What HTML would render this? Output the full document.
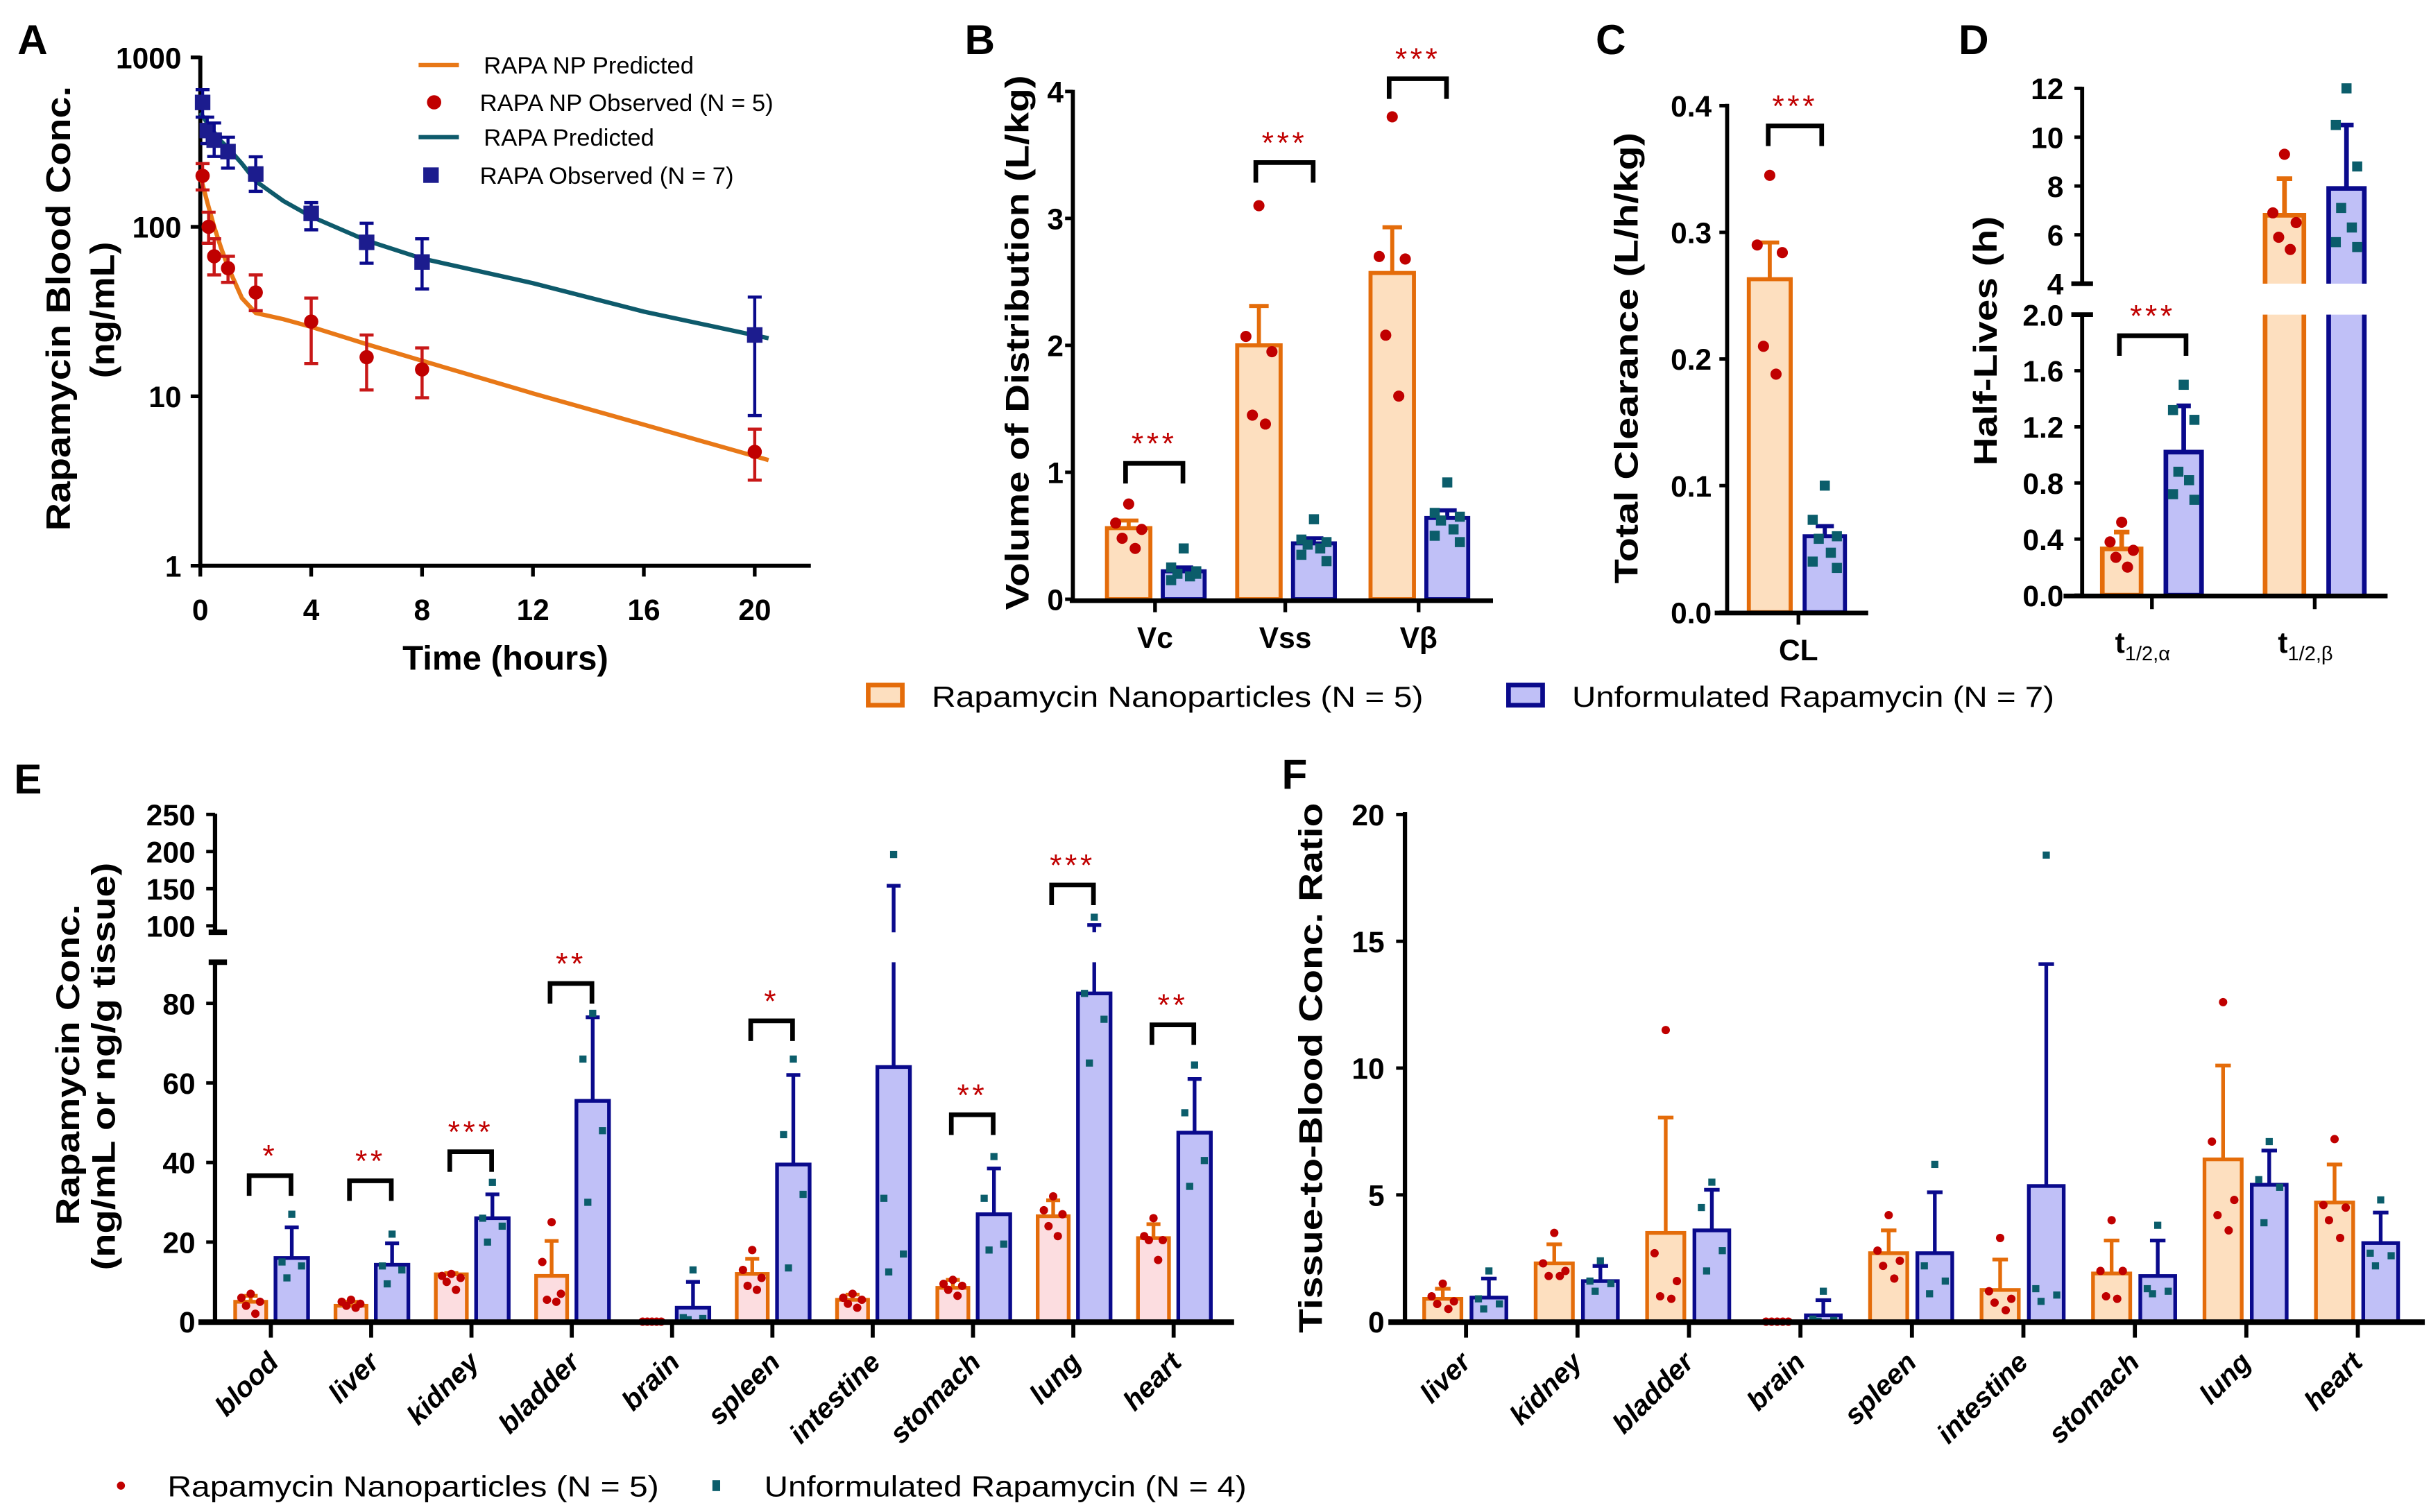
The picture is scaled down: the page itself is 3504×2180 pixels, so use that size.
<!DOCTYPE html>
<html><head><meta charset="utf-8">
<style>
html,body{margin:0;padding:0;background:#fff;}
svg{display:block;}
text{font-family:"Liberation Sans",sans-serif;}
</style></head>
<body>
<svg id="fig" xmlns="http://www.w3.org/2000/svg" width="3504" height="2180" viewBox="0 0 1568 975.5" preserveAspectRatio="none">
<rect x="0" y="0" width="1568" height="975.5" fill="#fff"/>
</svg>
<script>
// ===== Panel A data =====
const aNpTimes=[0.083,0.3,0.5,1,2,4,6,8,20];
const aNpMean=[200,100,67,57,41,27.6,17,14.4,4.7];
const aNpHi=[236,122,85,67,52,38,23,19.3,6.4];
const aNpLo=[165,80,52,47,32,15.6,10.9,9.8,3.2];
const aRapTimes=[0.083,0.25,0.5,1,2,4,6,8,20];
const aRapMean=[542,370,325,278,205,120,81,62,23];
const aRapHi=[645,444,410,338,259,139,105,85,38.5];
const aRapLo=[444,310,260,222,162,96,61,43,7.7];
const aPredTimes=[0,0.25,0.5,0.75,1,1.5,2,3,4,6,8,12,16,20.5];
const aNpPred=[200,140,100,75,58,38,31,28.5,25.7,20.3,16.2,10.4,6.8,4.2];
const aRapPred=[472,410,360,320,292,236,186,142,115,83,65,46.5,31.6,22];
const aYTicks=[1,10,100,1000];
const aXTicks=[0,4,8,12,16,20];
// ===== Panel B data =====
const bCats=['Vc','Vss','Vβ'];
const bNpMean=[0.56,2.0,2.57];
const bNpErr=[0.62,2.31,2.93];
const bNpPts=[[0.75,0.6,0.55,0.48,0.4],[3.1,2.07,1.95,1.45,1.38],[3.8,2.7,2.68,2.08,1.6]];
const bUnMean=[0.22,0.44,0.64];
const bUnErr=[0.25,0.48,0.70];
const bUnPts=[[0.4,0.25,0.22,0.2,0.18,0.15,0.2],[0.63,0.47,0.45,0.43,0.4,0.35,0.3],[0.92,0.68,0.65,0.62,0.55,0.5,0.45]];
const bSig=[1.07,3.44,4.1];
const bSigLabel=['***','***','***'];
const bYTicks=[0,1,2,3,4];
// ===== Panel C data =====
const cCats=['CL'];
const cNpMean=[0.263];
const cNpErr=[0.292];
const cNpPts=[[0.345,0.29,0.284,0.21,0.188]];
const cUnMean=[0.06];
const cUnErr=[0.068];
const cUnPts=[[0.1,0.073,0.06,0.058,0.047,0.04,0.035]];
const cSig=[0.384];
const cYTicks=[0,0.1,0.2,0.3,0.4];
// ===== Panel D data =====
const dCats=['α','β'];
const dNpMean=[0.33,6.8];
const dNpErr=[0.45,8.3];
const dNpPts=[[0.52,0.38,0.32,0.27,0.2],[9.3,6.9,6.5,5.9,5.4]];
const dUnMean=[1.02,7.9];
const dUnErr=[1.35,10.5];
const dUnPts=[[1.5,1.32,1.25,0.88,0.82,0.72,0.68],[12,10.5,8.8,7.1,6.3,5.7,5.5]];
const dSig=[1.85];
const dYTicksLow=[0,0.4,0.8,1.2,1.6,2.0];
const dYTicksHigh=[4,6,8,10,12];
// ===== Panel E data =====
const eCats=['blood','liver','kidney','bladder','brain','spleen','intestine','stomach','lung','heart'];
const eNpMean=[5,4,11.9,11.5,0,12,5.5,8.5,26.5,21];
const eNpErr=[6.5,5,12.2,20.3,0,15.8,6.8,10.5,30.5,24.5];
const eNpPts=[[7,6,5,4,2],[5.5,5,4.5,4,3.5],[12,11.5,11,10,8],[25,15,7,5.5,5],[0,0,0,0,0],[18,13,11,9,8],[7,6,5.5,4.5,3.5],[10.5,9.5,9,8,6.5],[31.5,28,27,24,21.5],[26,21.5,20.5,20.5,15.5]];
const eUnMean=[16,14.3,26,55.5,3.5,39.5,64,27,82.5,47.5];
const eUnErr=[23.7,19.7,32,76.5,10,62,154,38.5,101,61];
const eUnPts=[[27,15,14,11],[22,14,13,9.5],[35,26,24,20],[77.5,66,48,30],[13,1,0.8,0.5],[66,47,32,13.5],[196,31,17,12.5],[41.5,31,19.5,18],[111.5,82.5,76,65],[64.5,52.5,40.5,34]];
const eSig=[36.7,35.4,42.7,85,null,75.6,null,52,155,74.6];
const eSigLabel=['*','**','***','**','','*','','**','***','**'];
const eYTicksLow=[0,20,40,60,80];
const eYTicksHigh=[100,150,200,250];
// ===== Panel F data =====
const fCats=['liver','kidney','bladder','brain','spleen','intestine','stomach','lung','heart'];
const fNpMean=[0.9,2.3,3.5,0,2.7,1.25,1.9,6.4,4.7];
const fNpErr=[1.3,3.05,8.05,0,3.6,2.45,3.2,10.1,6.2];
const fNpPts=[[1.5,1.0,0.8,0.7,0.5],[3.5,2.3,2.0,1.8,1.8],[11.5,2.7,1.6,1.0,0.9],[0,0,0,0,0],[4.2,2.8,2.4,2.2,1.7],[3.3,1.2,0.9,0.75,0.45],[4.0,2.0,2.0,1.0,0.9],[12.6,7.1,4.8,4.2,3.6],[7.2,4.6,4.5,4.0,3.3]];
const fUnMean=[0.95,1.6,3.6,0.25,2.7,5.35,1.8,5.4,3.1];
const fUnErr=[1.7,2.2,5.2,0.85,5.1,14.1,3.2,6.75,4.3];
const fUnPts=[[2.0,0.9,0.7,0.5],[2.4,1.6,1.5,1.2],[5.5,4.5,2.8,2.0],[1.2,0.1,0.05,0.02],[6.2,2.2,1.6,1.1],[18.4,1.3,1.05,0.8],[3.8,1.3,1.2,1.1],[7.1,5.6,5.3,3.9],[4.8,2.7,2.6,2.2]];
const fYTicks=[0,5,10,15,20];

// ===== helpers =====
const NS='http://www.w3.org/2000/svg';
const svg=document.getElementById('fig');
const OR='#E46C0A', ORF='#FDDFBF', PINK='#FCDDE0', NV='#0A0A8C', BLF='#C0C0F7', RED='#C00000', TEAL='#0B5D6B', NAVYPT='#1C1C8E';
const NUMF='"Liberation Sans Narrow","Liberation Sans",sans-serif';
function el(parent,tag,attrs,text){const e=document.createElementNS(NS,tag);for(const k in attrs)e.setAttribute(k,attrs[k]);if(text!==undefined)e.textContent=text;parent.appendChild(e);return e;}
function nm(e,n){
  
  
  return e;
}
function grp(name){const g=el(svg,'g',{});nm(g,name);return g;}
function line(g,x1,y1,x2,y2,c,w,name){const e=el(g,'line',{x1,y1,x2,y2,stroke:c,'stroke-width':w});nm(e,name);return e;}
function txt(g,x,y,s,o,name){o=o||{};const e=el(g,'text',{x,y,'font-size':o.fs||18,'font-weight':o.fw||'normal','text-anchor':o.a||'start',fill:o.fill||'#000','font-family':o.ff||'"Liberation Sans",sans-serif'},s);if(o.tl){e.setAttribute('textLength',o.tl);e.setAttribute('lengthAdjust','spacingAndGlyphs');}if(o.ls)e.setAttribute('letter-spacing',o.ls);nm(e,name);return e;}
function rtxt(g,cx,cy,s,fs,len,name){const e=el(g,'text',{x:0,y:0,dy:'0.35em','font-size':fs,'font-weight':'bold','text-anchor':'middle',transform:`translate(${cx},${cy}) rotate(-90)`,textLength:len,lengthAdjust:'spacingAndGlyphs'},s);nm(e,name);return e;}
const JIT=[0,-0.3,0.3,-0.15,0.15,-0.3,0.3];
function pts(g,xc,w,vals,yf,kind,size,name){
  vals.forEach((v,i)=>{
    const x=xc+JIT[i%7]*w, y=yf(v);
    let e;
    if(kind==='dot') e=el(g,'circle',{cx:x,cy:y,r:size,fill:RED});
    else e=el(g,'rect',{x:x-size/2,y:y-size/2,width:size,height:size,fill:TEAL});
    nm(e,name);
  });
}
function bar(g,x0,x1,y0,y1,fill,stroke,sw,name){const e=el(g,'rect',{x:x0,y:Math.min(y0,y1),width:x1-x0,height:Math.abs(y0-y1),fill,stroke,'stroke-width':sw});nm(e,name);return e;}
function err(g,xc,y0,y1,cw,c,sw,name){line(g,xc,y0,xc,y1,c,sw,name);line(g,xc-cw/2,y1,xc+cw/2,y1,c,sw,name+'-cap');}
function sig(g,x0,x1,yTop,label,fs,name){
  const p=el(g,'path',{d:`M${x0},${yTop+13} V${yTop} H${x1} V${yTop+13}`,fill:'none',stroke:'#000','stroke-width':3});
  nm(p,name+'-bracket');
  txt(g,(x0+x1)/2,yTop-6,label,{fs:20,a:'middle',fill:RED,ls:2},name+'-stars');
}

// ===== Panel A =====
(function(){
  const g=grp('panel-a');
  const xA=t=>129.2+t*17.88, yA=v=>365-109.33*Math.log10(v);
  txt(g,21,35,'A',{fs:27,fw:'bold',a:'middle'},'panel-a-label');
  line(g,129.2,36,129.2,366,'#000',2.6,'y-axis');
  line(g,128,365,523,365,'#000',2.6,'x-axis');
  aYTicks.forEach(v=>{line(g,123,yA(v),129.2,yA(v),'#000',2.4,'y-tick');txt(g,117,yA(v)+7,String(v),{fs:19,fw:'bold',a:'end',ff:NUMF},'y-tick-label');});
  aXTicks.forEach(t=>{line(g,xA(t),365,xA(t),372,'#000',2.4,'x-tick');txt(g,xA(t),400,String(t),{fs:19,fw:'bold',a:'middle',ff:NUMF},'x-tick-label');});
  txt(g,326,432,'Time (hours)',{fs:22,fw:'bold',a:'middle'},'x-axis-title');
  rtxt(g,37.5,199,'Rapamycin Blood Conc.',22,287,'y-axis-title-line1');
  rtxt(g,66,200,'(ng/mL)',22,88,'y-axis-title-line2');
  const np=el(g,'polyline',{points:aPredTimes.map((t,i)=>xA(t)+','+yA(aNpPred[i])).join(' '),fill:'none',stroke:'#E87817','stroke-width':2.8});
  nm(np,'rapa-np-predicted-line');
  const rp=el(g,'polyline',{points:aPredTimes.map((t,i)=>xA(t)+','+yA(aRapPred[i])).join(' '),fill:'none',stroke:'#0E5A6B','stroke-width':2.8});
  nm(rp,'rapa-predicted-line');
  aRapTimes.forEach((t,i)=>{const x=xA(t);line(g,x,yA(aRapLo[i]),x,yA(aRapHi[i]),NV,2,'rapa-error-bar');line(g,x-4.5,yA(aRapLo[i]),x+4.5,yA(aRapLo[i]),NV,2,'rapa-error-cap');line(g,x-4.5,yA(aRapHi[i]),x+4.5,yA(aRapHi[i]),NV,2,'rapa-error-cap');const s=el(g,'rect',{x:x-5,y:yA(aRapMean[i])-5,width:10,height:10,fill:NAVYPT});nm(s,'rapa-observed-point');});
  aNpTimes.forEach((t,i)=>{const x=xA(t);line(g,x,yA(aNpLo[i]),x,yA(aNpHi[i]),'#C81818',2,'rapa-np-error-bar');line(g,x-4.5,yA(aNpLo[i]),x+4.5,yA(aNpLo[i]),'#C81818',2,'rapa-np-error-cap');line(g,x-4.5,yA(aNpHi[i]),x+4.5,yA(aNpHi[i]),'#C81818',2,'rapa-np-error-cap');const c=el(g,'circle',{cx:x,cy:yA(aNpMean[i]),r:4.6,fill:RED});nm(c,'rapa-np-observed-point');});
  const lg=el(g,'g',{});nm(lg,'legend-a');
  line(lg,270,42,296,42,'#E87817',2.8,'legend-swatch-np-predicted');
  txt(lg,312,47.5,'RAPA NP Predicted',{fs:15.5},'legend-entry-np-predicted');
  const c=el(lg,'circle',{cx:280,cy:66,r:4.6,fill:RED});nm(c,'legend-swatch-np-observed');
  txt(lg,309.5,71.5,'RAPA NP Observed (N = 5)',{fs:15.5},'legend-entry-np-observed');
  line(lg,270,88.5,296,88.5,'#0E5A6B',2.8,'legend-swatch-rapa-predicted');
  txt(lg,312,94,'RAPA Predicted',{fs:15.5},'legend-entry-rapa-predicted');
  const s=el(lg,'rect',{x:273,y:108,width:10,height:10,fill:NAVYPT});nm(s,'legend-swatch-rapa-observed');
  txt(lg,309.5,118.5,'RAPA Observed (N = 7)',{fs:15.5},'legend-entry-rapa-observed');
})();

// ===== generic grouped pair drawing =====
function drawPairs(g,ticks,yf,L,npFill,npMean,npErr,npPts,unMean,unErr,unPts,ps,prefix){
  ticks.forEach((tx,i)=>{
    const a0=tx+L[0],a1=tx+L[1],b0=tx+L[2],b1=tx+L[3];
    bar(g,a0,a1,yf(0),yf(npMean[i]),npFill,OR,ps.sw,prefix+'-np-bar');
    if(npErr[i]>npMean[i]) err(g,(a0+a1)/2,yf(npMean[i]),yf(npErr[i]),(a1-a0)*0.45,OR,ps.sw,prefix+'-np-error');
    pts(g,(a0+a1)/2,a1-a0,npPts[i],yf,'dot',ps.r,prefix+'-np-point');
    bar(g,b0,b1,yf(0),yf(unMean[i]),BLF,NV,ps.sw,prefix+'-unformulated-bar');
    if(unErr[i]>unMean[i]) err(g,(b0+b1)/2,yf(unMean[i]),yf(unErr[i]),(b1-b0)*0.45,NV,ps.sw,prefix+'-unformulated-error');
    pts(g,(b0+b1)/2,b1-b0,unPts[i],yf,'sq',ps.sq,prefix+'-unformulated-point');
  });
}

// ===== Panel B =====
(function(){
  const g=grp('panel-b');
  const yB=v=>386.6-v*81.9;
  const ticks=[745,829,915];
  txt(g,632,35,'B',{fs:27,fw:'bold',a:'middle'},'panel-b-label');
  rtxt(g,656,221,'Volume of Distribution (L/kg)',21,345,'y-axis-title');
  drawPairs(g,ticks,yB,[-31,-3,5,32],ORF,bNpMean,bNpErr,bNpPts,bUnMean,bUnErr,bUnPts,{sw:2.6,r:3.6,sq:6.5},'b');
  line(g,692,58,692,388,'#000',2.6,'y-axis');
  line(g,690,387.5,963,387.5,'#000',3,'x-axis');
  bYTicks.forEach(v=>{line(g,687,yB(v),692,yB(v),'#000',2.2,'y-tick');txt(g,686,yB(v)+7,String(v),{fs:19,fw:'bold',a:'end',ff:NUMF},'y-tick-label');});
  ticks.forEach((tx,i)=>{line(g,tx,387,tx,395,'#000',2.4,'x-tick');txt(g,tx,418,bCats[i],{fs:19,fw:'bold',a:'middle',ff:NUMF},'x-tick-label');
    sig(g,tx-19,tx+18,yB(bSig[i]),bSigLabel[i],20,'b-significance');});
})();

// ===== Panel C =====
(function(){
  const g=grp('panel-c');
  const yC=v=>395-v*817;
  const ticks=[1160];
  txt(g,1039,35,'C',{fs:27,fw:'bold',a:'middle'},'panel-c-label');
  rtxt(g,1049,231,'Total  Clearance (L/h/kg)',21,291,'y-axis-title');
  drawPairs(g,ticks,yC,[-32,-5,4,30],ORF,cNpMean,cNpErr,cNpPts,cUnMean,cUnErr,cUnPts,{sw:2.6,r:3.6,sq:6.5},'c');
  line(g,1114,67,1114,396,'#000',2.6,'y-axis');
  line(g,1106,395.5,1205,395.5,'#000',3,'x-axis');
  cYTicks.forEach(v=>{line(g,1109,yC(v),1114,yC(v),'#000',2.2,'y-tick');txt(g,1104,yC(v)+7,v.toFixed(1),{fs:19,fw:'bold',a:'end',ff:NUMF},'y-tick-label');});
  ticks.forEach((tx,i)=>{line(g,tx,395,tx,403,'#000',2.4,'x-tick');txt(g,tx,426,cCats[i],{fs:19,fw:'bold',a:'middle'},'x-tick-label');
    sig(g,tx-19.5,tx+15,yC(cSig[i]),'***',20,'c-significance');});
})();

// ===== Panel D =====
(function(){
  const g=grp('panel-d');
  const yL=v=>384-v*90.5, yU=v=>183-(v-4)*15.75;
  const yD=v=>v<=2.05?yL(v):yU(v);
  const ticks=[1388,1493];
  const L=[-32,-7,9,32];
  txt(g,1273,35,'D',{fs:27,fw:'bold',a:'middle'},'panel-d-label');
  rtxt(g,1280.5,220,'Half-Lives (h)',21,161,'y-axis-title');
  ticks.forEach((tx,i)=>{
    const a0=tx+L[0],a1=tx+L[1],b0=tx+L[2],b1=tx+L[3];
    [[a0,a1,dNpMean[i],dNpErr[i],dNpPts[i],ORF,OR,'dot','np'],[b0,b1,dUnMean[i],dUnErr[i],dUnPts[i],BLF,NV,'sq','unformulated']].forEach(s=>{
      const [x0,x1,m,e,p,fill,stroke,kind,nmx]=s;
      if(m<=2){
        bar(g,x0,x1,yL(0),yL(m),fill,stroke,3,'d-'+nmx+'-bar');
      }else{
        const r1=el(g,'rect',{x:x0,y:203,width:x1-x0,height:181,fill});nm(r1,'d-'+nmx+'-bar-lower');
        const p1=el(g,'path',{d:`M${x0},384 V203 M${x1},203 V384`,stroke,'stroke-width':3,fill:'none'});nm(p1,'d-'+nmx+'-bar-lower-edge');
        const r2=el(g,'rect',{x:x0,y:yU(m),width:x1-x0,height:183-yU(m),fill});nm(r2,'d-'+nmx+'-bar-upper');
        const p2=el(g,'path',{d:`M${x0},183 V${yU(m)} H${x1} V183`,stroke,'stroke-width':3,fill:'none'});nm(p2,'d-'+nmx+'-bar-upper-edge');
      }
      err(g,(x0+x1)/2,yD(m),yD(e),(x1-x0)*0.4,stroke,3,'d-'+nmx+'-error');
      pts(g,(x0+x1)/2,x1-x0,p,yD,kind,kind==='dot'?3.6:6.5,'d-'+nmx+'-point');
    });
  });
  line(g,1343,56,1343,183,'#000',2.6,'y-axis-upper');
  line(g,1343,203,1343,385,'#000',2.6,'y-axis-lower');
  line(g,1336,183,1350,183,'#000',3,'axis-break-mark');
  line(g,1336,203,1350,203,'#000',3,'axis-break-mark');
  line(g,1331,384.5,1540,384.5,'#000',3,'x-axis');
  dYTicksHigh.forEach(v=>{line(g,1338,yU(v),1343,yU(v),'#000',2.2,'y-tick');txt(g,1331,yU(v)+7,String(v),{fs:19,fw:'bold',a:'end',ff:NUMF},'y-tick-label');});
  dYTicksLow.forEach(v=>{line(g,1338,yL(v),1343,yL(v),'#000',2.2,'y-tick');txt(g,1331,yL(v)+7,v.toFixed(1),{fs:19,fw:'bold',a:'end',ff:NUMF},'y-tick-label');});
  ticks.forEach((tx,i)=>{line(g,tx,384,tx,393,'#000',2.4,'x-tick');
    const t=el(g,'text',{x:tx-6,y:421,'font-size':19,'font-weight':'bold','text-anchor':'middle'});nm(t,'x-tick-label');
    const a=el(t,'tspan',{},'t');const b=el(t,'tspan',{'font-size':13,'font-weight':'normal',dy:5},'1/2,'+dCats[i]);
  });
  sig(g,1367,1410,yL(dSig[0]),'***',20,'d-significance');
})();

// ===== B-D legend =====
(function(){
  const g=grp('legend-bcd');
  const r1=el(g,'rect',{x:560,y:442,width:22,height:13,fill:ORF,stroke:OR,'stroke-width':3});nm(r1,'legend-swatch-nanoparticles');
  txt(g,601,456,'Rapamycin Nanoparticles (N = 5)',{fs:18.5,tl:317},'legend-entry-nanoparticles');
  const r2=el(g,'rect',{x:973,y:442,width:22,height:13,fill:BLF,stroke:NV,'stroke-width':3});nm(r2,'legend-swatch-unformulated');
  txt(g,1014,456,'Unformulated Rapamycin (N = 7)',{fs:18.5,tl:311},'legend-entry-unformulated');
})();

// ===== Panel E =====
(function(){
  const g=grp('panel-e');
  const LOWTOP=620.8, UPBOT=601.5;
  const yLo=v=>852.7-v*2.567, yHi=v=>597.3-(v-100)*0.479;
  const yE=v=>v<=90.5?yLo(v):yHi(v);
  const ticks=eCats.map((c,i)=>174.7+i*64.7);
  const L=[-23,-3,3,24];
  txt(g,18,512,'E',{fs:27,fw:'bold',a:'middle'},'panel-e-label');
  rtxt(g,43.7,687,'Rapamycin Conc.',21,207,'y-axis-title-line1');
  rtxt(g,66.8,688,'(ng/mL or ng/g tissue)',21,263,'y-axis-title-line2');
  function seg(x,v0,v1,c,name){
    if(v1<=90.5){line(g,x,yE(v0),x,yE(v1),c,2.4,name);}
    else{line(g,x,yE(v0),x,LOWTOP,c,2.4,name);line(g,x,UPBOT,x,yHi(v1),c,2.4,name);}
  }
  ticks.forEach((tx,i)=>{
    const a0=tx+L[0],a1=tx+L[1],b0=tx+L[2],b1=tx+L[3];
    if(eNpMean[i]>0) bar(g,a0,a1,yLo(0),yLo(eNpMean[i]),PINK,OR,2.4,'e-np-bar');
    if(eNpErr[i]>eNpMean[i]){seg((a0+a1)/2,eNpMean[i],eNpErr[i],OR,'e-np-error');line(g,(a0+a1)/2-4.5,yE(eNpErr[i]),(a0+a1)/2+4.5,yE(eNpErr[i]),OR,2.4,'e-np-error-cap');}
    pts(g,(a0+a1)/2,a1-a0,eNpPts[i],yE,'dot',2.7,'e-np-point');
    bar(g,b0,b1,yLo(0),yLo(eUnMean[i]),BLF,NV,2.4,'e-unformulated-bar');
    if(eUnErr[i]>eUnMean[i]){seg((b0+b1)/2,eUnMean[i],eUnErr[i],NV,'e-unformulated-error');line(g,(b0+b1)/2-4.5,yE(eUnErr[i]),(b0+b1)/2+4.5,yE(eUnErr[i]),NV,2.4,'e-unformulated-error-cap');}
    pts(g,(b0+b1)/2,b1-b0,eUnPts[i],yE,'sq',4.6,'e-unformulated-point');
    if(eSig[i]!==null) sig(g,tx-14,tx+13,yE(eSig[i]),eSigLabel[i],18,'e-significance');
  });
  line(g,138.7,525,138.7,UPBOT,'#000',2.8,'y-axis-upper');
  line(g,138.7,LOWTOP,138.7,854,'#000',2.8,'y-axis-lower');
  line(g,134.6,UPBOT,146.4,UPBOT,'#000',3.5,'axis-break-mark');
  line(g,134.6,LOWTOP,146.4,LOWTOP,'#000',3.5,'axis-break-mark');
  line(g,128,853,796,853,'#000',3.6,'x-axis');
  eYTicksLow.forEach(v=>{line(g,133,yLo(v),138.7,yLo(v),'#000',2.2,'y-tick');txt(g,126,yLo(v)+7,String(v),{fs:19,fw:'bold',a:'end',ff:NUMF},'y-tick-label');});
  eYTicksHigh.forEach(v=>{line(g,133,yHi(v),138.7,yHi(v),'#000',2.2,'y-tick');txt(g,126,yHi(v)+7,String(v),{fs:19,fw:'bold',a:'end',ff:NUMF},'y-tick-label');});
  ticks.forEach((tx,i)=>{line(g,tx,853,tx,863,'#000',2.6,'x-tick');
    const t=el(g,'text',{x:0,y:0,'font-size':18,'font-weight':'bold','font-style':'italic','text-anchor':'end',transform:`translate(${tx+6},${880}) rotate(-45)`},eCats[i]);nm(t,'x-tick-label');});
  const c=el(g,'circle',{cx:78,cy:958.5,r:2.6,fill:RED});nm(c,'legend-swatch-nanoparticles');
  txt(g,108,965.5,'Rapamycin Nanoparticles (N = 5)',{fs:18.5,tl:317},'legend-entry-nanoparticles');
  const s=el(g,'rect',{x:459.5,y:955,width:5,height:7,fill:TEAL});nm(s,'legend-swatch-unformulated');
  txt(g,493,965.5,'Unformulated Rapamycin (N = 4)',{fs:18.5,tl:311},'legend-entry-unformulated');
})();

// ===== Panel F =====
(function(){
  const g=grp('panel-f');
  const yF=v=>852.7-v*16.36;
  const ticks=fCats.map((c,i)=>945.6+i*71.9);
  txt(g,835,509,'F',{fs:27,fw:'bold',a:'middle'},'panel-f-label');
  rtxt(g,845.4,689,'Tissue-to-Blood Conc. Ratio',21,342,'y-axis-title');
  ticks.forEach((tx,i)=>{
    const a0=tx-27,a1=tx-3,b0=tx+3.5,b1=tx+26;
    if(fNpMean[i]>0) bar(g,a0,a1,yF(0),yF(fNpMean[i]),ORF,OR,2.4,'f-np-bar');
    if(fNpErr[i]>fNpMean[i]) err(g,(a0+a1)/2,yF(fNpMean[i]),yF(fNpErr[i]),10,OR,2.4,'f-np-error');
    pts(g,(a0+a1)/2,a1-a0,fNpPts[i],yF,'dot',2.7,'f-np-point');
    bar(g,b0,b1,yF(0),yF(fUnMean[i]),BLF,NV,2.4,'f-unformulated-bar');
    if(fUnErr[i]>fUnMean[i]) err(g,(b0+b1)/2,yF(fUnMean[i]),yF(fUnErr[i]),10,NV,2.4,'f-unformulated-error');
    pts(g,(b0+b1)/2,b1-b0,fUnPts[i],yF,'sq',4.6,'f-unformulated-point');
  });
  line(g,906.2,524,906.2,854,'#000',2.8,'y-axis');
  line(g,895.5,853,1564,853,'#000',3.6,'x-axis');
  fYTicks.forEach(v=>{line(g,900.5,yF(v),906.2,yF(v),'#000',2.2,'y-tick');txt(g,893,yF(v)+7,String(v),{fs:19,fw:'bold',a:'end',ff:NUMF},'y-tick-label');});
  ticks.forEach((tx,i)=>{line(g,tx,853,tx,863,'#000',2.6,'x-tick');
    const t=el(g,'text',{x:0,y:0,'font-size':18,'font-weight':'bold','font-style':'italic','text-anchor':'end',transform:`translate(${tx+4},${880}) rotate(-45)`},fCats[i]);nm(t,'x-tick-label');});
})();
</script>
</body></html>
